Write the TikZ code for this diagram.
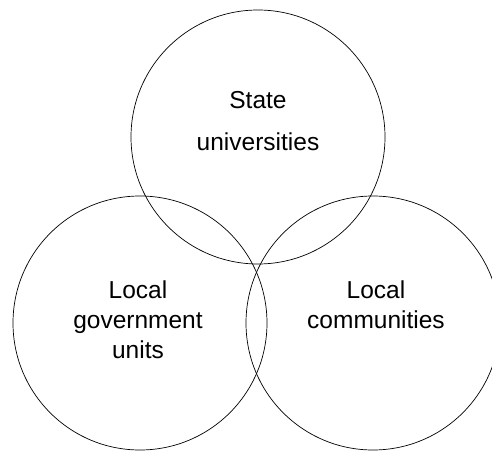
\documentclass[tikz,border=0pt]{standalone}
\usepackage{fontspec}
\setmainfont{Liberation Sans}
\begin{document}
\begin{tikzpicture}[x=1pt, y=1pt, line width=0.7pt,
	insieme/.style = {circle, draw=black, inner sep=0pt, minimum size=2*\R},
	etich/.style   = {align=center, font=\fontsize{24.5}{30}\selectfont},
	]
	
	%% ── Parametri geometrici ─────────────────────────────────────────────────
	\def\R{127}      % raggio dei cerchi
	\useasboundingbox(0,0)rectangle(492,450);
	\clip(0,0)rectangle(492,450);
	
	%% ── Cerchi ───────────────────────────────────────────────────────────────
	\node[insieme](stato)at(258,313){};
	\node[insieme](enti)at(140,127){};
	\node[insieme](comun)at(373,127){};
	
	%% ── Etichette ────────────────────────────────────────────────────────────
	\node[etich, font=\fontsize{24.5}{42}\selectfont](tStato)at(258,329){State\\universities};
	\node[etich](tEnti)at(138,130){Local\\government\\units};
	\node[etich](tComun)at(376,145){Local\\communities};
	
\end{tikzpicture}
\end{document}
